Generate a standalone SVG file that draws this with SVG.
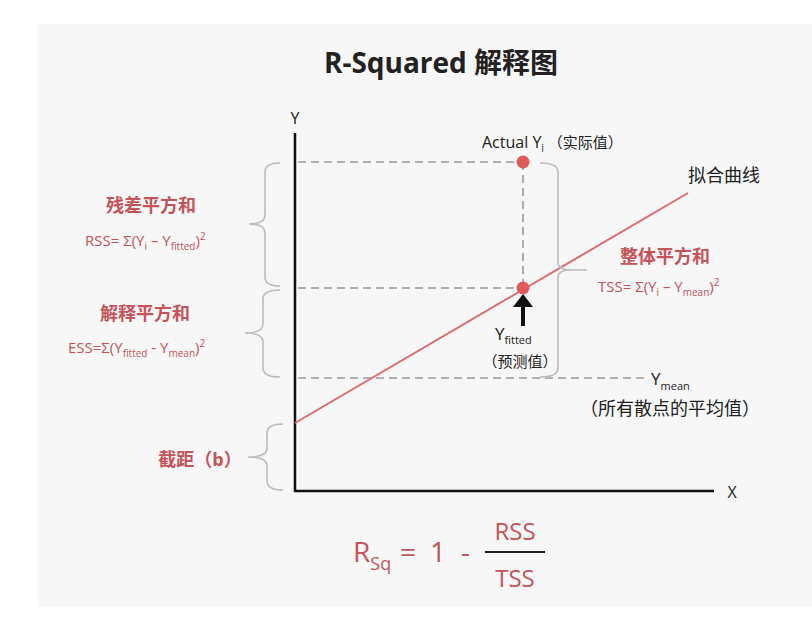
<svg xmlns="http://www.w3.org/2000/svg" width="812" height="630" viewBox="0 0 812 630">
<style>
text{font-family:"Open Sans","Noto Sans CJK SC",sans-serif;}
.dark{fill:#222;}
.red{fill:#c4545a;}
.b{font-weight:bold;}
.brace{fill:none;stroke:#bdbdbd;stroke-width:1.6;}
.dash{fill:none;stroke:#9a9a9a;stroke-width:1.6;stroke-dasharray:8 5;}
.axis{stroke:#111;stroke-width:2.5;}
</style>
<rect width="812" height="630" fill="#ffffff"/>
<rect x="38" y="24" width="774" height="583" fill="#f7f7f7"/>
<g id="title"><text x="441" y="73" text-anchor="middle" class="dark b" font-size="28">R-Squared 解释图</text></g>
<g id="connectors">
<line class="axis" x1="295" y1="133" x2="295" y2="492"/>
<line class="axis" x1="294" y1="491" x2="714" y2="491"/>
<line class="dash" x1="298" y1="162" x2="523" y2="162"/>
<line class="dash" x1="298" y1="288" x2="523" y2="288"/>
<line class="dash" x1="298" y1="378" x2="645" y2="378"/>
<line class="dash" x1="523" y1="162" x2="523" y2="288"/>
<line x1="295" y1="423" x2="688" y2="193" stroke="#e06b6b" stroke-width="2"/>
<path class="brace" d="M280,163 Q265,163 265,172 L265,215 Q265,224 249,224 Q265,224 265,233 L265,277 Q265,286 280,286"/>
<path class="brace" d="M280,290 Q263,290 263,299 L263,324 Q263,333 245,333 Q263,333 263,342 L263,368 Q263,377 280,377"/>
<path class="brace" d="M283,424 Q267,424 267,433 L267,448 Q267,457 248,457 Q267,457 267,466 L267,481 Q267,490 283,490"/>
<path class="brace" d="M540,163 Q558,163 558,172 L558,262 Q558,270 570,270 L587,270 M570,270 Q558,270 558,278 L558,368 Q558,377 540,377"/>
<path d="M523,294 L533,307 L525,307 L525,326 L521,326 L521,307 L513,307 Z" fill="#111"/>
<line x1="485" y1="552" x2="545" y2="552" stroke="#222" stroke-width="2"/>
</g>
<g id="axis-labels">
<text x="295" y="124" text-anchor="middle" class="dark" font-size="16">Y</text>
<text x="732" y="498" text-anchor="middle" class="dark" font-size="16">X</text>
</g>
<g id="actual">
<circle cx="523" cy="162" r="6.5" fill="#e05a5a"/>
<text x="482" y="148" class="dark" font-size="16">Actual Y<tspan font-size="10" dy="4">i</tspan><tspan dy="-4" font-size="15"> （实际值）</tspan></text>
</g>
<g id="fitted">
<circle cx="523" cy="288" r="6.5" fill="#e05a5a"/>
<text x="495" y="340" class="dark" font-size="17">Y<tspan font-size="11" dy="4">fitted</tspan></text>
<text x="520" y="367" text-anchor="middle" class="dark" font-size="15">（预测值）</text>
</g>
<g id="fit-line-label"><text x="688" y="182" class="dark" font-size="18">拟合曲线</text></g>
<g id="tss">
<text x="665" y="263" text-anchor="middle" class="red b" font-size="18">整体平方和</text>
<text x="598" y="292" class="red" font-size="15">TSS= Σ(Y<tspan font-size="10" dy="4">i</tspan><tspan dy="-4"> – Y</tspan><tspan font-size="10" dy="4">mean</tspan><tspan dy="-4">)</tspan><tspan font-size="10" dy="-6">2</tspan></text>
</g>
<g id="mean">
<text x="651" y="385" class="dark" font-size="17">Y<tspan font-size="11" dy="5">mean</tspan></text>
<text x="670" y="415" text-anchor="middle" class="dark" font-size="18">（所有散点的平均值）</text>
</g>
<g id="rss">
<text x="151" y="212" text-anchor="middle" class="red b" font-size="18">残差平方和</text>
<text x="85" y="246" class="red" font-size="15">RSS= Σ(Y<tspan font-size="10" dy="4">i</tspan><tspan dy="-4"> – Y</tspan><tspan font-size="10" dy="4">fitted</tspan><tspan dy="-4">)</tspan><tspan font-size="10" dy="-6">2</tspan></text>
</g>
<g id="ess">
<text x="145" y="320" text-anchor="middle" class="red b" font-size="18">解释平方和</text>
<text x="68" y="353" class="red" font-size="15">ESS=Σ(Y<tspan font-size="10" dy="4">fitted</tspan><tspan dy="-4"> - Y</tspan><tspan font-size="10" dy="4">mean</tspan><tspan dy="-4">)</tspan><tspan font-size="10" dy="-6">2</tspan></text>
</g>
<g id="intercept"><text x="200" y="466" text-anchor="middle" class="red b" font-size="18">截距（b）</text></g>
<g id="formula">
<text x="353" y="562" class="red" font-size="28">R<tspan font-size="18" dy="8">Sq</tspan></text>
<text x="400" y="562" class="red" font-size="28">=</text>
<text x="430" y="562" class="red" font-size="28">1</text>
<text x="461" y="562" class="red" font-size="28">-</text>
<text x="515" y="540" text-anchor="middle" class="red" font-size="24">RSS</text>
<text x="515" y="587" text-anchor="middle" class="red" font-size="24">TSS</text>
</g>
</svg>
